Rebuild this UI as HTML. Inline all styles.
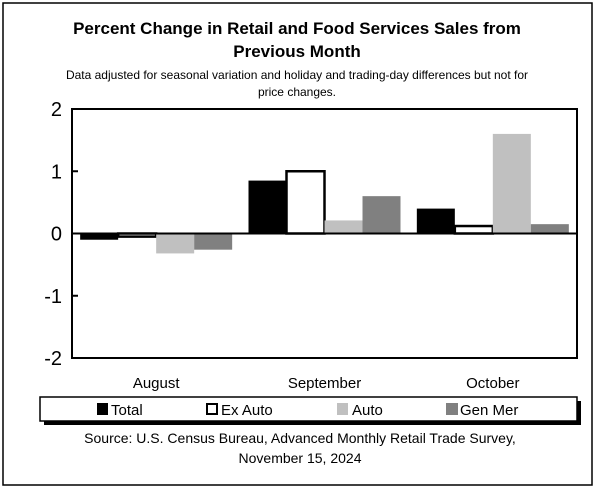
<!DOCTYPE html>
<html><head><meta charset="utf-8"><style>
body{margin:0;background:#fff;}
svg text{font-family:"Liberation Sans",Arial,sans-serif;}
</style></head><body>
<svg width="600" height="488" viewBox="0 0 600 488" xmlns="http://www.w3.org/2000/svg">
<rect x="3" y="3" width="589" height="482" fill="#fff" stroke="#000" stroke-width="1.5"/>
<text x="297" y="34" font-size="17" font-weight="bold" text-anchor="middle">Percent Change in Retail and Food Services Sales from</text>
<text x="297" y="57" font-size="17" font-weight="bold" text-anchor="middle">Previous Month</text>
<text x="297" y="79" font-size="12" text-anchor="middle">Data adjusted for seasonal variation and holiday and trading-day differences but not for</text>
<text x="297" y="96" font-size="12" text-anchor="middle">price changes.</text>
<g id="plot"></g>
<g>
<rect x="44" y="401" width="537" height="24" fill="#000"/>
<rect x="40" y="397" width="537" height="24" fill="#fff" stroke="#000" stroke-width="1.5"/>
<g><rect x="97" y="403" width="11" height="12" fill="#000"/><text x="111" y="415" font-size="15">Total</text></g>
<g><rect x="207" y="404" width="10" height="10" fill="#fff" stroke="#000" stroke-width="2"/><text x="221" y="415" font-size="15">Ex Auto</text></g>
<g><rect x="337" y="403" width="11" height="12" fill="#c0c0c0"/><text x="352" y="415" font-size="15">Auto</text></g>
<g><rect x="446" y="403" width="12" height="12" fill="#808080"/><text x="460" y="415" font-size="15">Gen Mer</text></g>
</g>
<text x="300" y="443" font-size="14" text-anchor="middle">Source: U.S. Census Bureau, Advanced Monthly Retail Trade Survey,</text>
<text x="300" y="463" font-size="14" text-anchor="middle">November 15, 2024</text>
</svg>
<script>
const categories=["August","September","October"];
const seriesNames=["Total","Ex Auto","Auto","Gen Mer"];
const totalVals=[-0.1,0.85,0.4];
const exAutoVals=[-0.05,1.0,0.12];
const autoVals=[-0.32,0.21,1.6];
const genMerVals=[-0.26,0.6,0.15];
const yTicks=[-2,-1,0,1,2];
const NS="http://www.w3.org/2000/svg";
const L=72,R=577,T=109,B=358,ymin=-2,ymax=2;
const g=document.getElementById('plot');
function y(v){return B-(v-ymin)/(ymax-ymin)*(B-T);}
const cw=(R-L)/categories.length,bw=38;
function mk(t,a){const e=document.createElementNS(NS,t);for(const k in a)e.setAttribute(k,a[k]);g.appendChild(e);return e;}
const series=[totalVals,exAutoVals,autoVals,genMerVals];
const fills=["#000","#fff","#c0c0c0","#808080"];
series.forEach((vals,si)=>{vals.forEach((v,ci)=>{
 const x=L+ci*cw+(cw-4*bw)/2+si*bw;
 const y0=y(0),y1=y(v);
 const r=mk('rect',{x:x,y:Math.min(y0,y1),width:bw,height:Math.abs(y1-y0),fill:fills[si]});
 if(si===1){r.setAttribute('stroke','#000');r.setAttribute('stroke-width','2.5');}
 
 
});});
const fr=mk('rect',{x:L,y:T,width:R-L,height:B-T,fill:'none',stroke:'#000','stroke-width':2});


const zl=mk('line',{x1:L,x2:R,y1:y(0),y2:y(0),stroke:'#000','stroke-width':2});


yTicks.forEach(t=>{
 const tk=mk('line',{x1:L,x2:L+6,y1:y(t),y2:y(t),stroke:'#000','stroke-width':2});
 
 
 const tx=mk('text',{x:L-10,y:y(t)+7,'font-size':20,'text-anchor':'end'});
 tx.textContent=t;
 
 
});
categories.forEach((c,i)=>{
 const tx=mk('text',{x:L+i*cw+cw/2,y:388,'font-size':15,'text-anchor':'middle'});
 tx.textContent=c;
 
 
});
</script>
</body></html>
